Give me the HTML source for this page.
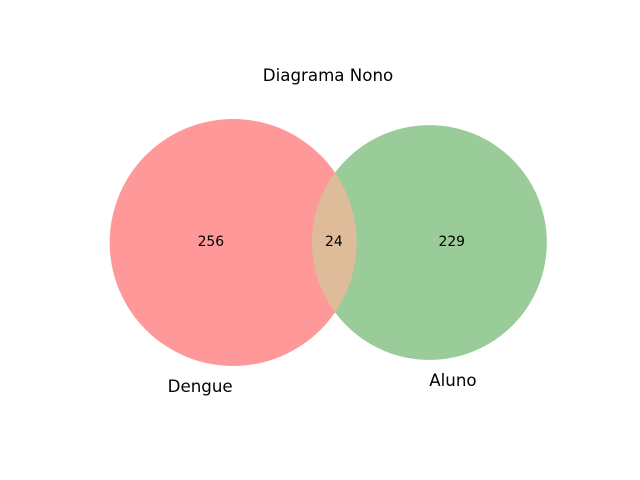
<!DOCTYPE html>
<html lang="pt">
<head>
<meta charset="utf-8">
<title>Diagrama Nono</title>
<style>
html,body{margin:0;padding:0;background:#fff;}
svg{display:block;}
text{font-family:"DejaVu Sans","Liberation Sans",sans-serif;fill:#000;}
.big{font-size:16.67px;}
.num{font-size:13.89px;}
</style>
</head>
<body>
<svg id="chart" width="640" height="480" viewBox="0 0 640 480" xmlns="http://www.w3.org/2000/svg">
  <rect width="640" height="480" fill="#ffffff"/>
  <text class="big" x="328" y="81" text-anchor="middle">Diagrama Nono</text>
  <circle id="circleA" fill="#ff9999"/>
  <circle id="circleB" fill="#99cc99"/>
  <path id="lens" fill="#dfbc99"/>
  <text id="valA" class="num" text-anchor="middle"></text>
  <text id="valAB" class="num" text-anchor="middle"></text>
  <text id="valB" class="num" text-anchor="middle"></text>
  <text id="labelA" class="big" text-anchor="middle"></text>
  <text id="labelB" class="big" text-anchor="middle"></text>
</svg>
<script>
var setNames = ["Dengue", "Aluno"];
var onlyCounts = [256, 229];
var overlapCounts = [24];

var unitRadius = 123.5 / Math.sqrt(280);
var lensAreaScale = 3.24;
var midX = 328.25, midY = 242.5, numBaseline = 246;

function setSize(i) { return onlyCounts[i] + overlapCounts[0]; }
function radiusScale(n) { return unitRadius * Math.sqrt(n); }

function lensArea(r1, r2, d) {
  if (d >= r1 + r2) return 0;
  if (d <= Math.abs(r1 - r2)) { var m = Math.min(r1, r2); return Math.PI * m * m; }
  var d1 = (d * d + r1 * r1 - r2 * r2) / (2 * d);
  var d2 = d - d1;
  var h = Math.sqrt(Math.max(0, r1 * r1 - d1 * d1));
  return r1 * r1 * Math.acos(d1 / r1) - d1 * h + r2 * r2 * Math.acos(d2 / r2) - d2 * h;
}

function solveDistance(r1, r2, target) {
  var lo = Math.abs(r1 - r2), hi = r1 + r2;
  for (var i = 0; i < 60; i++) {
    var mid = (lo + hi) / 2;
    if (lensArea(r1, r2, mid) > target) lo = mid; else hi = mid;
  }
  return (lo + hi) / 2;
}

var r1 = radiusScale(setSize(0));
var r2 = radiusScale(setSize(1));
var target = lensAreaScale * overlapCounts[0] * unitRadius * unitRadius;
var dist = solveDistance(r1, r2, target);
var cx1 = midX - (r1 + dist + r2) / 2 + r1;
var cx2 = cx1 + dist;

function el(id) { return document.getElementById(id); }
function place(id, x, y, txt) {
  var t = el(id);
  t.setAttribute("x", x);
  t.setAttribute("y", y);
  t.textContent = txt;
}

el("circleA").setAttribute("cx", cx1);
el("circleA").setAttribute("cy", midY);
el("circleA").setAttribute("r", r1);
el("circleB").setAttribute("cx", cx2);
el("circleB").setAttribute("cy", midY);
el("circleB").setAttribute("r", r2);

var dx = (dist * dist + r1 * r1 - r2 * r2) / (2 * dist);
var hh = Math.sqrt(Math.max(0, r1 * r1 - dx * dx));
var topX = cx1 + dx;
el("lens").setAttribute("d",
  "M" + topX + " " + (midY - hh) +
  " A" + r1 + " " + r1 + " 0 0 1 " + topX + " " + (midY + hh) +
  " A" + r2 + " " + r2 + " 0 0 1 " + topX + " " + (midY - hh) + "Z");

var leftA = cx1 - r1, rightA = cx1 + r1, leftB = cx2 - r2, rightB = cx2 + r2;
place("valA", (leftA + leftB) / 2, numBaseline, onlyCounts[0]);
place("valAB", (leftB + rightA) / 2 - 0.5, numBaseline, overlapCounts[0]);
place("valB", (rightA + rightB) / 2, numBaseline, onlyCounts[1]);
place("labelA", cx1 - 33, midY + r1 + 26, setNames[0]);
place("labelB", cx2 + 23.5, midY + r2 + 26, setNames[1]);
</script>
</body>
</html>
